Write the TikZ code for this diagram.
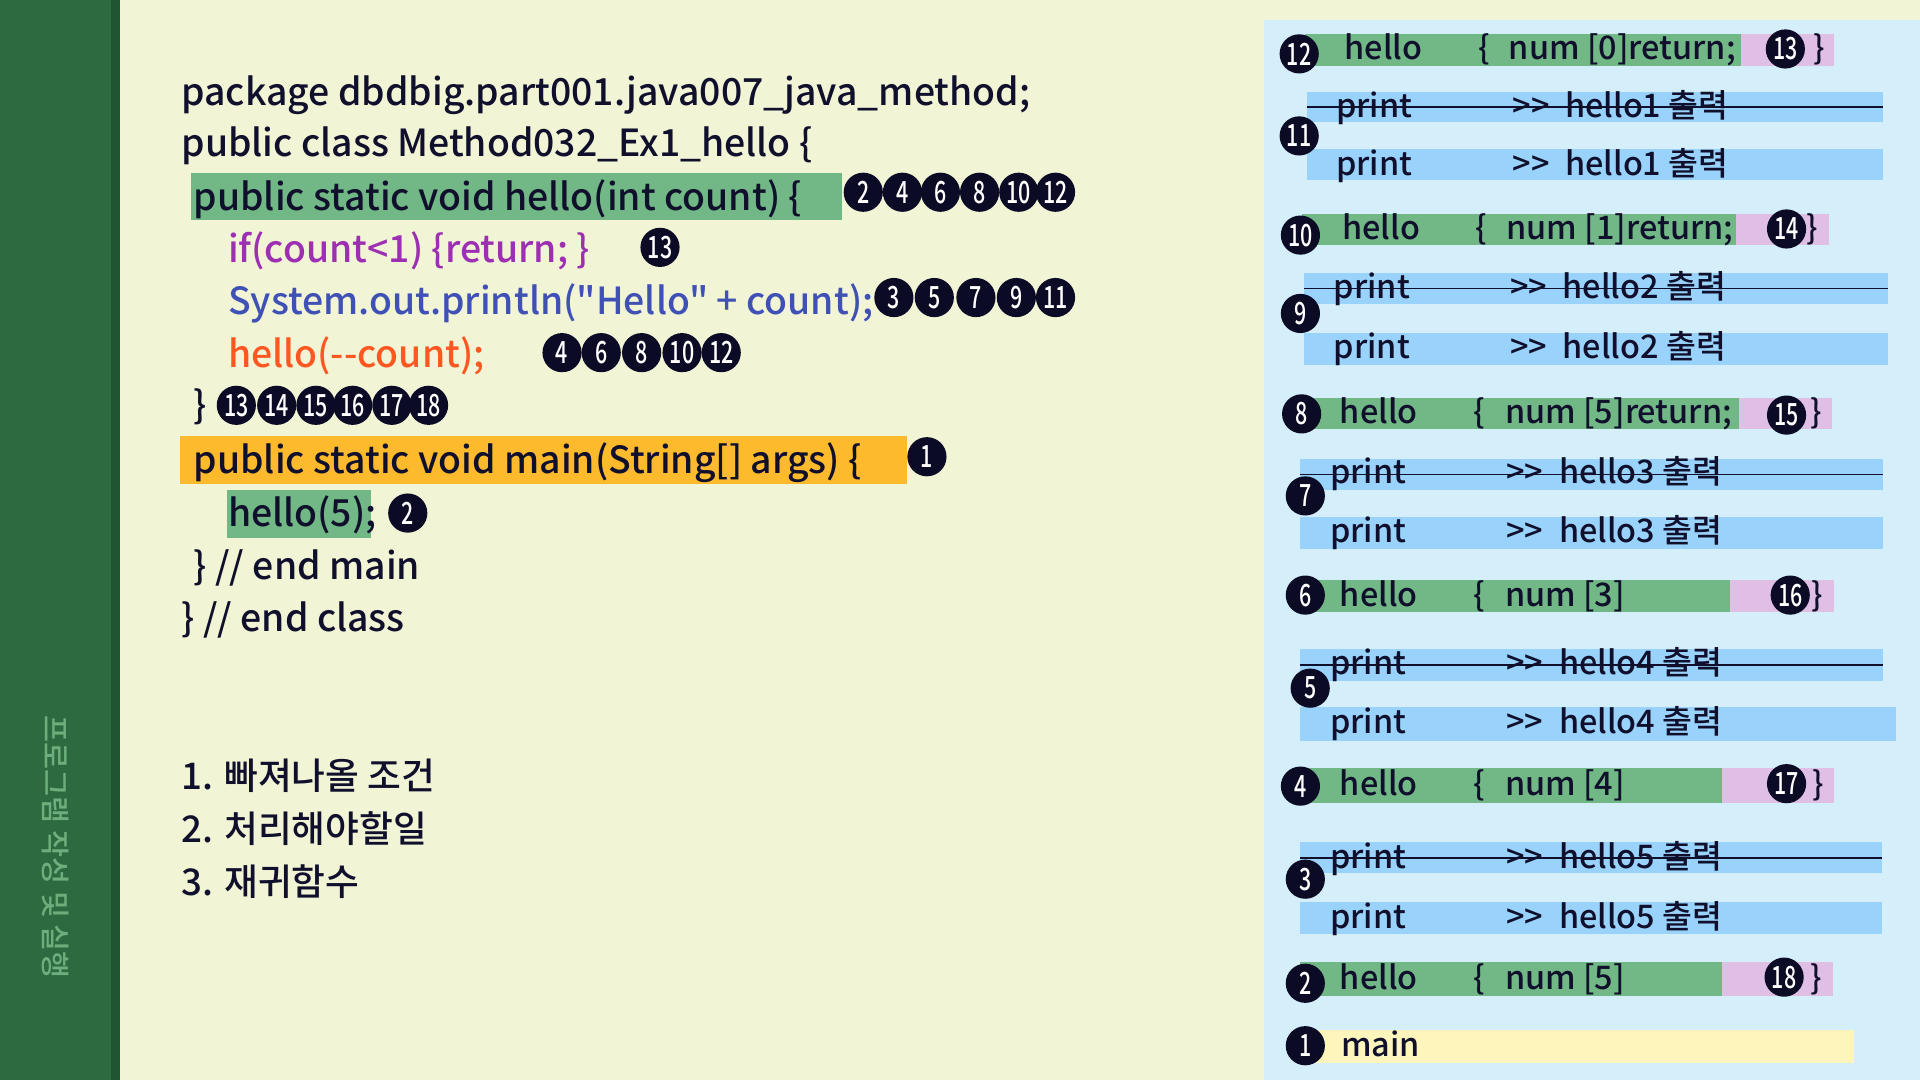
\documentclass[tikz,border=0pt]{standalone}
\usepackage{fontspec}
\setmainfont{Noto Sans CJK KR}[UprightFont=* Medium]
\newfontfamily\codefont{Noto Sans CJK KR}[UprightFont=* Medium,Ligatures=TeXOff]
\newfontfamily\numfont{Noto Sans CJK KR}[UprightFont=* Medium,FakeStretch=0.7]
\definecolor{bgcream}{HTML}{F2F4D6}
\definecolor{sidebar}{HTML}{2D6A40}
\definecolor{sidedark}{HTML}{1F5531}
\definecolor{sidetext}{HTML}{6DAE7C}
\definecolor{panel}{HTML}{D4EFF9}
\definecolor{hlgreen}{HTML}{72B886}
\definecolor{hlorange}{HTML}{FDBA2C}
\definecolor{txtdark}{HTML}{10102C}
\definecolor{txtpurple}{HTML}{9C2FB2}
\definecolor{txtblue}{HTML}{3F51B5}
\definecolor{txtred}{HTML}{FF5722}
\definecolor{barblue}{HTML}{99D2FB}
\definecolor{barpink}{HTML}{E0BFE4}
\definecolor{baryellow}{HTML}{FDF5BC}
\definecolor{numbg}{HTML}{0B0B26}
\newcommand\mybar[6]{\node[bar,fill=#2,minimum width={(#5)-(#3)},minimum height={(#6)-(#4)}] (#1) at (#3,#4) {};}
\begin{document}
\begin{tikzpicture}[x=1pt,y=-1pt,
  code/.style={anchor=base west,inner sep=0,text=txtdark,font=\codefont\fontsize{30.5}{36}\selectfont},
  listtxt/.style={anchor=base west,inner sep=0,text=txtdark,font=\fontsize{30}{36}\selectfont},
  rtxt/.style={anchor=base west,inner sep=0,text=txtdark,font=\codefont\fontsize{26.5}{30}\selectfont},
  num/.style={circle,fill=numbg,text=white,minimum size=32,inner sep=0,font=\numfont\fontsize{25}{25}\selectfont},
  bar/.style={draw=none,inner sep=0,outer sep=0,anchor=north west},
  strike/.style={draw=txtdark,line width=1.3pt}]
\useasboundingbox (0,0) rectangle (1568,882);
\fill[bgcream] (0,0) rectangle (1568,882);
\fill[sidebar] (0,0) rectangle (98,882);
\fill[sidedark] (91,0) rectangle (98,882);
\node[rotate=-90,text=sidetext,font=\fontsize{24}{28}\selectfont,inner sep=0] (side) at (45,692) {프로그램 작성 및 실행};
\fill[panel] (1032,16) rectangle (1568,882);
% code highlights
\mybar{hl3}{hlgreen}{156}{141}{688}{180}
\mybar{hl8}{hlorange}{147}{356}{741}{395}
\mybar{hl9}{hlgreen}{185}{400}{303}{439}
% code lines
\node[code] (l1) at (148,86) {package dbdbig.part001.java007\_java\_method;};
\node[code] (l2) at (148,128) {public class Method032\_Ex1\_hello \{};
\node[code] (l3) at (158,172) {public static void hello(int count) \{};
\node[code,text=txtpurple] (l4) at (186,214) {if(count<1) \{return; \}};
\node[code,text=txtblue] (l5) at (186,257) {System.out.println("Hello" + count);};
\node[code,text=txtred] (l6) at (186,300) {hello(--count);};
\node[code] (l7) at (158,342) {\}};
\node[code] (l8) at (158,387) {public static void main(String[] args) \{};
\node[code] (l9) at (186,430) {hello(5);};
\node[code] (l10) at (158,473) {\} // end main};
\node[code] (l11) at (148,516) {\} // end class};
% step circles
\foreach \n/\x in {2/705,4/737,6/768,8/800,10/832,12/862} \node[num] (a\n) at (\x,157) {\n};
\node[num] (b13) at (539,202) {13};
\foreach \n/\x in {3/730,5/763,7/797,9/830,11/862} \node[num] (c\n) at (\x,243) {\n};
\foreach \n/\x in {4/459,6/491,8/524,10/557,12/589} \node[num] (d\n) at (\x,288) {\n};
\foreach \n/\x in {13/193,14/226,15/258,16/288,17/320,18/350} \node[num] (e\n) at (\x,331) {\n};
\node[num] (f1) at (757,373) {1};
\node[num] (g2) at (333,419) {2};
% list
\node[listtxt] (li1) at (148,645) {1. 빠져나올 조건};
\node[listtxt] (li2) at (148,688) {2. 처리해야할일};
\node[listtxt] (li3) at (148,731) {3. 재귀함수};
% ---------- right panel ----------
% row 12/13
\mybar{rA}{hlgreen}{1066}{28}{1422}{54}
\mybar{pA}{barpink}{1422}{28}{1498}{54}
\node[rtxt] (tA1) at (1098,49) {hello};
\node[rtxt] (tA2) at (1207,49) {\{};
\node[rtxt] (tA3) at (1232,49) {num [0]return;};
\node[rtxt] (tA4) at (1481,49) {\}};
\node[num] (nA) at (1061,44) {12};
\node[num] (mA) at (1458,40) {13};
% print hello1
\mybar{rB}{barblue}{1067}{75}{1538}{100}
\node[rtxt] (tB1) at (1091,96) {print};
\node[rtxt] (tB2) at (1235,96) {>>};
\node[rtxt] (tB3) at (1278,96) {hello1 출력};
\draw[strike] (rB.west) -- (rB.east);
\mybar{rC}{barblue}{1067}{122}{1538}{147}
\node[rtxt] (tC1) at (1091,143) {print};
\node[rtxt] (tC2) at (1235,143) {>>};
\node[rtxt] (tC3) at (1278,143) {hello1 출력};
\node[num] (nB) at (1061,111) {11};
% row 10/14
\mybar{rD}{hlgreen}{1063}{175}{1418}{200}
\mybar{pD}{barpink}{1418}{175}{1494}{200}
\node[rtxt] (tD1) at (1096,196) {hello};
\node[rtxt] (tD2) at (1205,196) {\{};
\node[rtxt] (tD3) at (1230,196) {num [1]return;};
\node[rtxt] (tD4) at (1475,196) {\}};
\node[num] (nD) at (1062,192) {10};
\node[num] (mD) at (1459,187) {14};
% print hello2
\mybar{rE}{barblue}{1065}{223}{1542}{248}
\node[rtxt] (tE1) at (1089,244) {print};
\node[rtxt] (tE2) at (1233,244) {>>};
\node[rtxt] (tE3) at (1276,244) {hello2 출력};
\draw[strike] (rE.west) -- (rE.east);
\mybar{rF}{barblue}{1065}{272}{1542}{298}
\node[rtxt] (tF1) at (1089,293) {print};
\node[rtxt] (tF2) at (1233,293) {>>};
\node[rtxt] (tF3) at (1276,293) {hello2 출력};
\node[num] (nE) at (1062,256) {9};
% row 8/15
\mybar{rG}{hlgreen}{1063}{325}{1420}{350}
\mybar{pG}{barpink}{1420}{325}{1496}{350}
\node[rtxt] (tG1) at (1094,346) {hello};
\node[rtxt] (tG2) at (1203,346) {\{};
\node[rtxt] (tG3) at (1229,346) {num [5]return;};
\node[rtxt] (tG4) at (1478,346) {\}};
\node[num] (nG) at (1063,338) {8};
\node[num] (mG) at (1459,339) {15};
% print hello3
\mybar{rH}{barblue}{1062}{375}{1538}{400}
\node[rtxt] (tH1) at (1086,395) {print};
\node[rtxt] (tH2) at (1230,395) {>>};
\node[rtxt] (tH3) at (1273,395) {hello3 출력};
\draw[strike] (rH.west) -- (rH.east);
\mybar{rI}{barblue}{1062}{422}{1538}{448}
\node[rtxt] (tI1) at (1086,443) {print};
\node[rtxt] (tI2) at (1230,443) {>>};
\node[rtxt] (tI3) at (1273,443) {hello3 출력};
\node[num] (nH) at (1066,405) {7};
% row 6/16
\mybar{rJ}{hlgreen}{1063}{474}{1413}{500}
\mybar{pJ}{barpink}{1413}{474}{1498}{500}
\node[rtxt] (tJ1) at (1094,495) {hello};
\node[rtxt] (tJ2) at (1203,495) {\{};
\node[rtxt] (tJ3) at (1229,495) {num [3]};
\node[rtxt] (tJ4) at (1479,495) {\}};
\node[num] (nJ) at (1066,486) {6};
\node[num] (mJ) at (1462,486) {16};
% print hello4
\mybar{rK}{barblue}{1062}{530}{1538}{556}
\node[rtxt] (tK1) at (1086,551) {print};
\node[rtxt] (tK2) at (1230,551) {>>};
\node[rtxt] (tK3) at (1273,551) {hello4 출력};
\draw[strike] (rK.west) -- (rK.east);
\mybar{rL}{barblue}{1062}{577}{1548}{605}
\node[rtxt] (tL1) at (1086,599) {print};
\node[rtxt] (tL2) at (1230,599) {>>};
\node[rtxt] (tL3) at (1273,599) {hello4 출력};
\node[num] (nK) at (1070,562) {5};
% row 4/17
\mybar{rM}{hlgreen}{1063}{627}{1406}{656}
\mybar{pM}{barpink}{1406}{627}{1498}{656}
\node[rtxt] (tM1) at (1094,650) {hello};
\node[rtxt] (tM2) at (1203,650) {\{};
\node[rtxt] (tM3) at (1229,650) {num [4]};
\node[rtxt] (tM4) at (1480,650) {\}};
\node[num] (nM) at (1062,642) {4};
\node[num] (mM) at (1459,640) {17};
% print hello5
\mybar{rN}{barblue}{1062}{688}{1537}{713}
\node[rtxt] (tN1) at (1086,709) {print};
\node[rtxt] (tN2) at (1230,709) {>>};
\node[rtxt] (tN3) at (1273,709) {hello5 출력};
\draw[strike] (rN.west) -- (rN.east);
\mybar{rO}{barblue}{1062}{737}{1537}{763}
\node[rtxt] (tO1) at (1086,758) {print};
\node[rtxt] (tO2) at (1230,758) {>>};
\node[rtxt] (tO3) at (1273,758) {hello5 출력};
\node[num] (nN) at (1066,718) {3};
% row 2/18
\mybar{rP}{hlgreen}{1062}{786}{1406}{813}
\mybar{pP}{barpink}{1406}{786}{1497}{813}
\node[rtxt] (tP1) at (1094,808) {hello};
\node[rtxt] (tP2) at (1203,808) {\{};
\node[rtxt] (tP3) at (1229,808) {num [5]};
\node[rtxt] (tP4) at (1478,808) {\}};
\node[num] (nP) at (1066,803) {2};
\node[num] (mP) at (1457,798) {18};
% main
\mybar{rQ}{baryellow}{1068}{841}{1514}{868}
\node[rtxt] (tQ1) at (1095,863) {main};
\node[num] (nQ) at (1066,854) {1};
\end{tikzpicture}
\end{document}
